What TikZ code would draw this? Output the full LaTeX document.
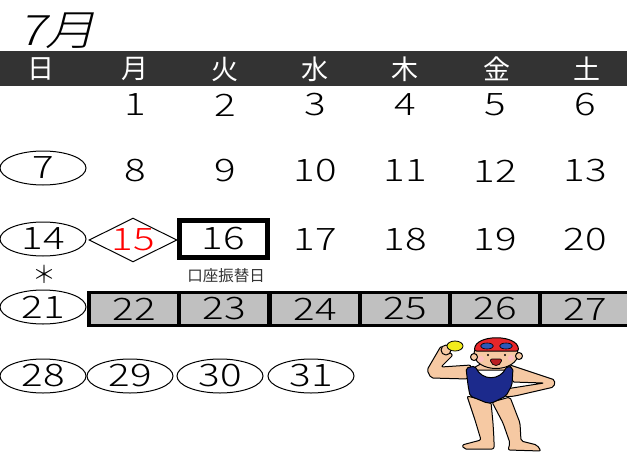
\documentclass[tikz,border=0pt]{standalone}
\usepackage{fontspec}
\usetikzlibrary{shapes.geometric}
\newfontfamily\calfont[FakeStretch=1.3]{Noto Sans CJK JP Light}
\newfontfamily\titlefont[FakeStretch=1.2,FakeSlant=0.25]{Noto Sans CJK JP Light}
\newfontfamily\thinfont{Noto Sans CJK JP Light}
\newfontfamily\jpfont{Noto Sans CJK JP}
\definecolor{headbar}{HTML}{333333}
\definecolor{bandgray}{HTML}{C0C0C0}
\definecolor{skin}{HTML}{F6C9A3}
\definecolor{suit}{HTML}{1C2A8C}
\definecolor{capred}{HTML}{E8262A}
\definecolor{goggle}{HTML}{2E58B8}
\definecolor{ball}{HTML}{F2EC1C}

\begin{document}
\begin{tikzpicture}[x=1pt, y=-1pt,
    day/.style={font=\calfont\fontsize{31}{31}\selectfont, inner sep=0pt},
    sunday/.style={day, draw, ellipse, line width=1pt, minimum width=86pt, minimum height=34pt},
    week/.style={font=\jpfont\fontsize{27}{27}\selectfont, text=white, inner sep=0pt},
    band/.style={day, draw, rectangle, line width=3.5pt, fill=bandgray, minimum width=90pt, minimum height=33pt}]
            \useasboundingbox (0,0) rectangle (627,453);

            \node[font=\titlefont\fontsize{42}{42}\selectfont, inner sep=0pt] (title) at (57,31) {7月};
            \fill[headbar] (0,51) rectangle (627,86);

            \node[week] (h1) at (41,69) {日};
            \node[week] (h2) at (135,69) {月};
            \node[week] (h3) at (225,69) {火};
            \node[week] (h4) at (315,69) {水};
            \node[week] (h5) at (405,69) {木};
            \node[week] (h6) at (497,69) {金};
            \node[week] (h7) at (587,69) {土};

            \node[day] (d1) at (135,105) {1};
            \node[day] (d2) at (225,105) {2};
            \node[day] (d3) at (315,105) {3};
            \node[day] (d4) at (405,105) {4};
            \node[day] (d5) at (495,105) {5};
            \node[day] (d6) at (585,105) {6};

            \node[sunday] (d7) at (43,168) {7};
            \node[day] (d8) at (135,171) {8};
            \node[day] (d9) at (225,171) {9};
            \node[day] (d10) at (315,171) {10};
            \node[day] (d11) at (405,171) {11};
            \node[day] (d12) at (495,171) {12};
            \node[day] (d13) at (585,171) {13};

            \node[sunday] (d14) at (43,239) {14};
            \node[day, draw, diamond, aspect=2, line width=1pt, text=red] (d15) at (133,240) {15};
            \node[day, draw, rectangle, line width=5pt, minimum width=88pt, minimum height=37pt] (d16) at (223.5,239) {16};
            \node[day] (d17) at (315,240) {17};
            \node[day] (d18) at (405,240) {18};
            \node[day] (d19) at (495,240) {19};
            \node[day] (d20) at (585,240) {20};
            \node[font=\jpfont\fontsize{15.5}{15.5}\selectfont, text=headbar, inner sep=0pt] (furikae) at (226,276) {口座振替日};
            \node[font=\thinfont\fontsize{24}{24}\selectfont, inner sep=0pt] (mark) at (44,274) {＊};

            \node[sunday] (d21) at (43,307) {21};
            \node[band] (d22) at (134,309) {22};
            \node[band] (d23) at (224,309) {23};
            \node[band] (d24) at (315,309) {24};
            \node[band] (d25) at (405,309) {25};
            \node[band] (d26) at (495,309) {26};
            \node[band] (d27) at (585,309) {27};

            \node[sunday] (d28) at (43,376) {28};
            \node[sunday] (d29) at (130,376) {29};
            \node[sunday] (d30) at (220,376) {30};
            \node[sunday] (d31) at (311,376) {31};

            % swimmer
            \begin{scope}[line width=1pt, line join=round, rounded corners=2pt]
            \filldraw[fill=skin] (467,396) -- (475,420) -- (481,440) -- (462,445) -- (464,449) -- (494,449) -- (494,440) -- (493,423) -- (491,402) -- cycle;
            \filldraw[fill=skin] (492,402) -- (503,423) -- (510,443) -- (508,450) -- (541,451) -- (537,445) -- (521,441) -- (520,423) -- (510,397) -- cycle;
            \filldraw[fill=skin] (510,365) -- (531,372) -- (555,380) -- (554,387) -- (515,396) -- (505,397) -- (501,390) -- (512,388) -- (544,383) -- (512,382) -- cycle;
            \filldraw[fill=skin] (441,346) -- (427,370) -- (431,378) -- (468,379) -- (471,365) -- (441,367) -- (453,355) -- cycle;
            \filldraw[fill=skin] (470,370) -- (484,362) -- (504,362) -- (512,370) -- cycle;
            \filldraw[fill=suit] (466,368) -- (475,366) .. controls (482,381) and (500,381) .. (507,366) -- (513,368) -- (512,385) -- (506,396) -- (492,403) -- (487,403) -- (470,396) -- (468,385) -- cycle;
            \filldraw[fill=skin] (496,354) ellipse (22 and 14.5);
            \filldraw[fill=skin] (474,357) circle (3.5);
            \filldraw[fill=skin] (519,356) circle (3.5);
            \filldraw[fill=capred] (474.5,351) .. controls (475,334) and (518,334) .. (518.5,351) -- cycle;
            \filldraw[fill=goggle, line width=0.6pt] (487,346) ellipse (6.5 and 3);
            \filldraw[fill=goggle, line width=0.6pt] (506,346) ellipse (6.5 and 3);
            \fill (488,355) circle (1.1);
            \fill (505,355) circle (1.1);
            \fill[pink] (481,359) circle (3);
            \fill[pink] (511,358) circle (3);
            \filldraw[fill=capred!80!black, line width=0.7pt] (490,359) .. controls (492,367) and (500,367) .. (502,359) -- cycle;
            \filldraw[fill=skin] (446,350) circle (5);
            \filldraw[fill=ball, line width=0.8pt] (455,346) ellipse (8 and 5);
            \end{scope}
        \end{tikzpicture}
\end{document}
